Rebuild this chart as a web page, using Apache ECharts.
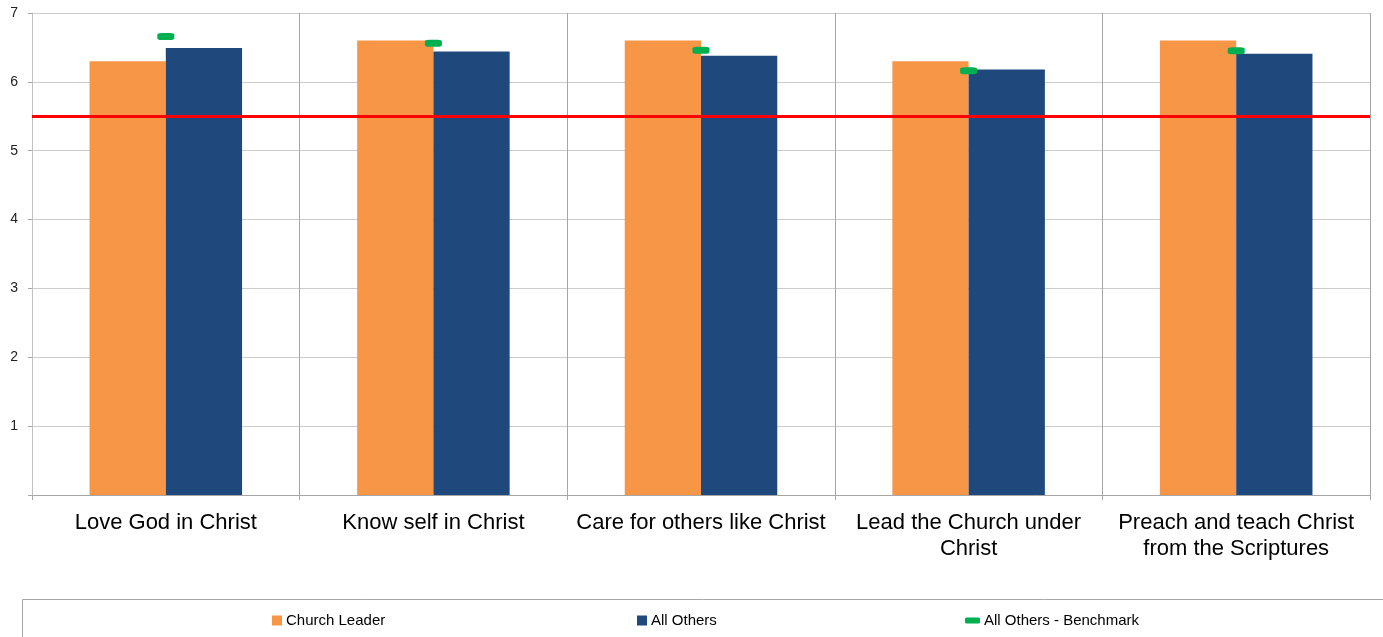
<!DOCTYPE html>
<html>
<head>
<meta charset="utf-8">
<script src="https://cdn.jsdelivr.net/npm/echarts@6/dist/echarts.min.js"></script>
<style>
html,body{margin:0;padding:0;background:#fff;}
#chart{width:1383px;height:637px;}
</style>
</head>
<body>
<div id="chart"></div>
<script>
const categories = [
  'Love God in Christ',
  'Know self in Christ',
  'Care for others like Christ',
  'Lead the Church under\nChrist',
  'Preach and teach Christ\nfrom the Scriptures'
];
const churchLeader = [6.3, 6.6, 6.6, 6.3, 6.6];
const allOthers = [6.49, 6.44, 6.38, 6.18, 6.41];
const benchmark = [6.66, 6.56, 6.46, 6.16, 6.45];
const threshold = 5.5;
const yTicks = [0, 1, 2, 3, 4, 5, 6, 7];

const FONT = 'Liberation Sans, Arial, sans-serif';
const chart = echarts.init(document.getElementById('chart'));
const legendText = {fontFamily: FONT, fontSize: 15, color: '#000', padding: [0, 0, 0, -1]};
chart.setOption({
  animation: false,
  backgroundColor: '#fff',
  grid: {left: 32, right: 13, top: 13, bottom: 142, containLabel: false},
  graphic: [{
    type: 'rect', left: 22, top: 599, z: -1,
    shape: {width: 1400, height: 60},
    style: {fill: '#fff', stroke: '#a6a6a6', lineWidth: 1}
  }],
  legend: [
    {data: [{name: 'Church Leader', icon: 'rect'}], left: 272, top: 613, padding: 0, itemWidth: 10, itemHeight: 10, itemGap: 4,
     textStyle: legendText, selectedMode: false},
    {data: [{name: 'All Others', icon: 'rect'}], left: 637, top: 613, padding: 0, itemWidth: 10, itemHeight: 10, itemGap: 4,
     textStyle: legendText, selectedMode: false},
    {data: [{name: 'All Others - Benchmark', icon: 'roundRect'}], left: 965, top: 613, padding: 0, itemWidth: 15, itemHeight: 6, itemGap: 3,
     textStyle: legendText, selectedMode: false}
  ],
  xAxis: {
    type: 'category',
    data: categories,
    boundaryGap: true,
    axisLine: {show: true, lineStyle: {color: '#a6a6a6', width: 1}},
    axisTick: {show: true, length: 5, alignWithLabel: false, lineStyle: {color: '#a6a6a6'}},
    splitLine: {show: true, lineStyle: {color: '#a6a6a6', width: 1}},
    axisLabel: {fontFamily: FONT, fontSize: 22, color: '#000', margin: 15, lineHeight: 26, interval: 0}
  },
  yAxis: {
    type: 'value',
    min: yTicks[0], max: yTicks[yTicks.length - 1], interval: 1,
    axisLine: {show: true, lineStyle: {color: '#c0c0c0', width: 1}},
    axisTick: {show: true, length: 4, lineStyle: {color: '#a6a6a6'}},
    splitLine: {show: true, lineStyle: {color: '#cccccc', width: 1}},
    axisLabel: {fontFamily: FONT, fontSize: 14, color: '#222', margin: 14,
      formatter: v => (v === 0 ? '' : String(v))}
  },
  series: [
    {
      name: 'Church Leader', type: 'bar', data: churchLeader,
      barGap: '0%', barCategoryGap: '43%',
      itemStyle: {color: '#F79646'},
      markLine: {
        silent: true, symbol: ['none', 'none'], label: {show: false},
        lineStyle: {color: '#FF0000', width: 3, type: 'solid', opacity: 1},
        data: [{yAxis: threshold}],
        z: 10
      }
    },
    {
      name: 'All Others', type: 'bar', data: allOthers,
      barGap: '0%', barCategoryGap: '43%',
      itemStyle: {color: '#1F497D'}
    },
    {
      name: 'All Others - Benchmark', type: 'scatter', data: benchmark,
      symbol: 'roundRect', symbolSize: [17, 7],
      itemStyle: {color: '#00B050', opacity: 1}, z: 20
    }
  ]
});
</script>
</body>
</html>
